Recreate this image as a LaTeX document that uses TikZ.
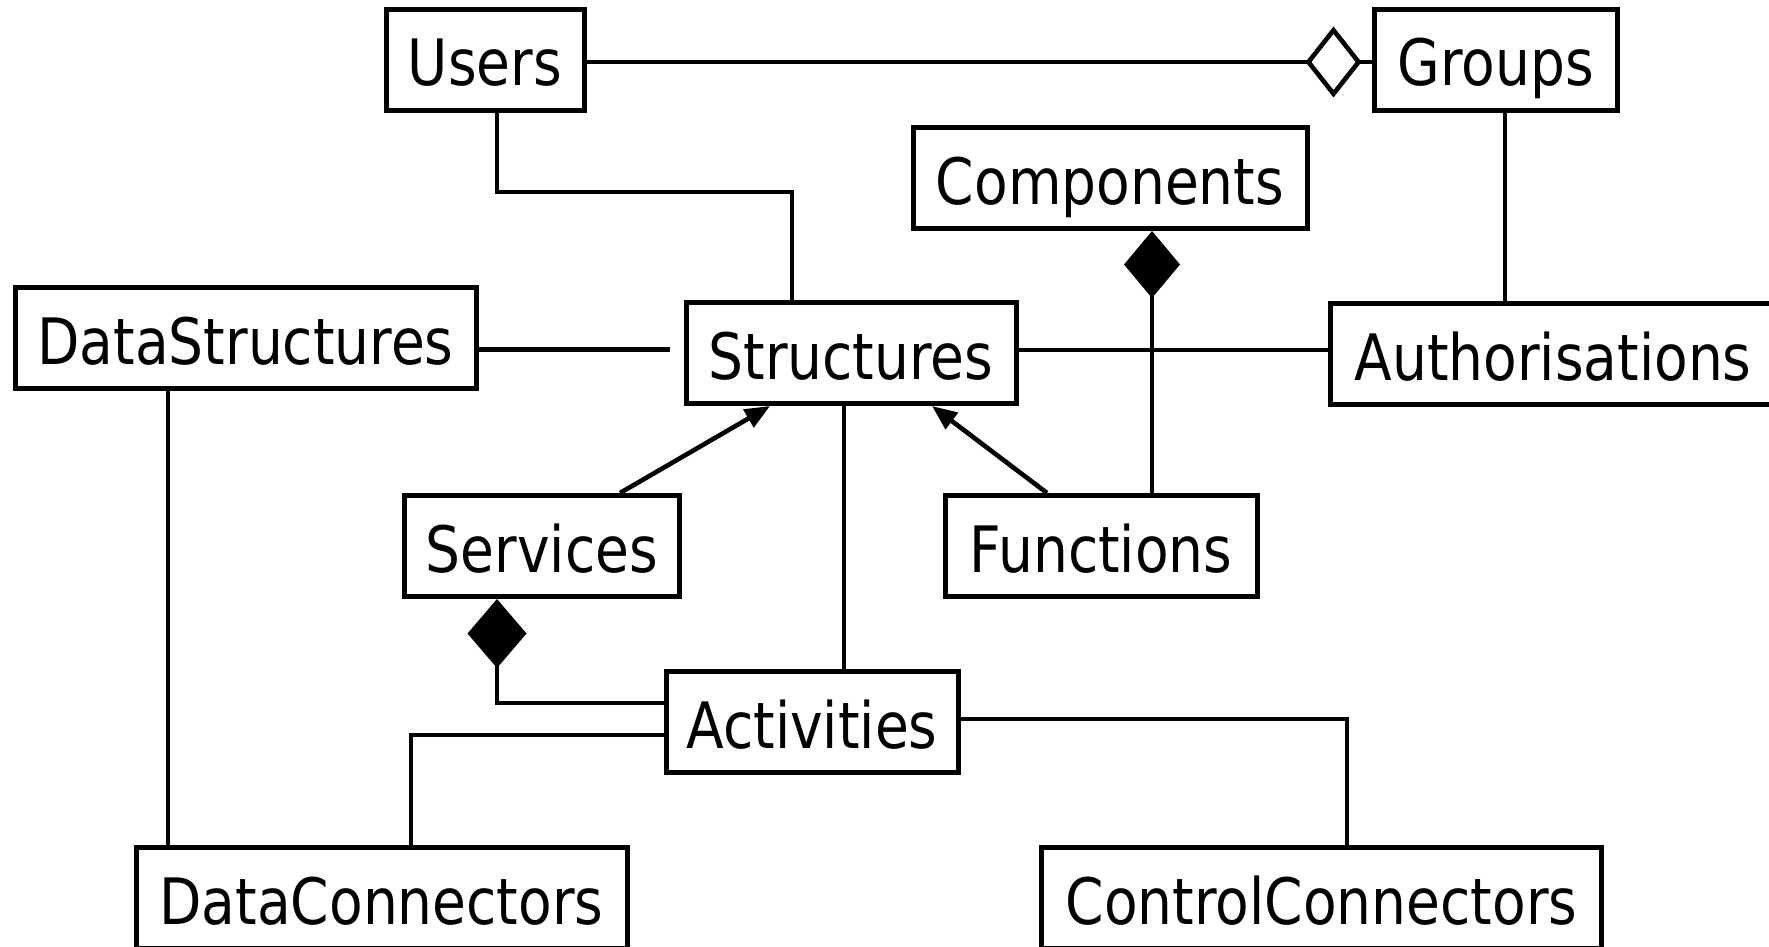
\documentclass[tikz,border=0pt]{standalone}
\usepackage{fontspec}
\setmainfont{DejaVu Sans}[FakeStretch=0.86]
\usetikzlibrary{arrows.meta}

\tikzset{
  cls/.style={draw, line width=5pt, fill=white, inner sep=0pt,
    minimum height=101pt, text height=52pt, text depth=0pt,
    font=\fontsize{64}{70}\selectfont},
  link/.style={line width=4.6pt},
  inherit/.style={link, -{Triangle[length=25pt,width=20pt]}},
}

\begin{document}
\begin{tikzpicture}[x=1pt,y=-1pt]
\useasboundingbox (0,0) rectangle (1769,947);
\clip (0,0) rectangle (1769,947);

% classes
\node[cls, minimum width=198pt] (users) at (485,60) {Users};
\node[cls, minimum width=243pt] (groups) at (1495.5,60) {Groups};
\node[cls, minimum width=394pt] (components) at (1110,178) {Components};
\node[cls, minimum width=461pt] (datastructures) at (245.5,338) {DataStructures};
\node[cls, minimum width=330pt] (structures) at (851,353) {Structures};
\node[cls, minimum width=445pt] (authorisations) at (1553,354) {Authorisations};
\node[cls, minimum width=275pt] (services) at (542,546) {Services};
\node[cls, minimum width=312pt] (functions) at (1101,546) {Functions};
\node[cls, minimum width=292pt] (activities) at (812,722) {Activities};
\node[cls, minimum width=491pt] (dataconnectors) at (381.5,898) {DataConnectors};
\node[cls, minimum width=560pt] (controlconnectors) at (1321.5,898) {ControlConnectors};

% Users -- Groups, aggregation diamond on the Groups side
\draw[link] ([yshift=-2pt]users.east) -- ([yshift=-2pt]users.east -| groups.west);
\draw[link, shorten >=10pt, -{Kite[fill=white,length=56pt,width=71pt,inset=28pt]}]
  ([yshift=-2pt]users.east) -- ([yshift=-2pt]users.east -| groups.west);

% plain associations
\draw[link] ([xshift=12pt]users.south) -- ++(0,79) -| ([xshift=-59pt]structures.north);
\draw[link] ([xshift=9.5pt]groups.south) -- ([xshift=9.5pt]groups.south |- authorisations.north);
\coordinate (dsgap) at ([xshift=-14pt,yshift=3.5pt]structures.west);
\draw[link] (datastructures.east |- dsgap) -- (dsgap);
\draw[link] ([yshift=3pt]structures.east) -- ([yshift=3pt]structures.east -| authorisations.west);
\draw[link] ([xshift=-7pt]structures.south) -- ([xshift=-7pt]structures.south |- activities.north);
\draw[link] ([xshift=-77.5pt]datastructures.south) -- ([xshift=-77.5pt]datastructures.south |- dataconnectors.north);
\draw[link] ([yshift=-13pt]activities.west) -| ([xshift=29.5pt]dataconnectors.north);
\draw[link] ([yshift=3pt]activities.east) -| ([xshift=25.5pt]controlconnectors.north);

% generalisations
\draw[inherit] ([xshift=78pt]services.north) -- ([xshift=-81pt]structures.south);
\draw[inherit] ([xshift=-54pt]functions.north) -- ([xshift=81pt]structures.south);

% compositions
\draw[link, {Kite[length=67pt,width=56pt,inset=33.5pt]}-]
  ([xshift=42pt]components.south) -- ([xshift=42pt]components.south |- functions.north);
\draw[link, {Kite[length=69pt,width=59pt,inset=34.5pt]}-]
  ([xshift=-45pt]services.south) |- ([yshift=19pt]activities.west);
\end{tikzpicture}
\end{document}
